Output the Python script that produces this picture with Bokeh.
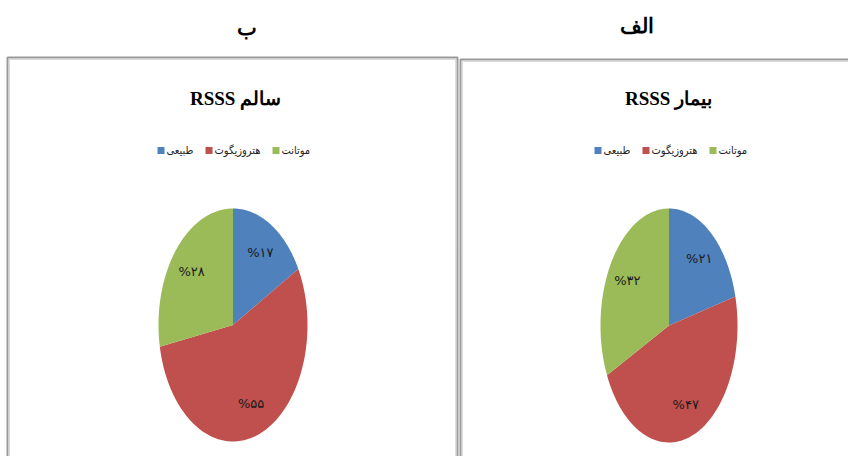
import numpy as np
from bokeh.plotting import figure
from bokeh.models import Range1d
from bokeh.core.properties import value
from bokeh.embed import file_html
from bokeh.resources import INLINE

# ---- data ----
categories = ["طبیعی", "هتروزیگوت", "موتانت"]
colors = ["#4F81BD", "#C0504D", "#9BBB59"]
healthy_values = [17, 55, 28]      # RSSS سالم  (panel ب)
patient_values = [21, 47, 32]      # RSSS بیمار (panel الف)
healthy_labels = ["%۱۷", "%۵۵", "%۲۸"]
patient_labels = ["%۲۱", "%۴۷", "%۳۲"]
panel_letters = ["ب", "الف"]
panel_titles = ["RSSS سالم", "RSSS بیمار"]

W, H = 848, 456
p = figure(width=W, height=H, output_backend="svg", toolbar_location=None,
           x_range=Range1d(0, W), y_range=Range1d(H, 0),
           min_border=0)
p.axis.visible = False
p.grid.visible = False
p.outline_line_color = None
p.background_fill_color = "white"

# panel frames (double grey line)
p.quad(left=[7, 460], right=[457, 875], top=[57, 59], bottom=[490, 490],
       fill_color=None, line_color="#9a9a9a", line_width=2)
p.quad(left=[9, 462], right=[455, 873], top=[59, 61], bottom=[490, 490],
       fill_color=None, line_color="#dcdcdc", line_width=1)

# panel letters (headers)
p.text(x=[246, 636], y=[27, 25], text=panel_letters, text_align="center",
       text_baseline="middle", text_font=value("Liberation Serif"),
       text_font_size="21px", text_font_style="bold", text_color="black")

# panel titles
p.text(x=[235, 668], y=[98, 98], text=panel_titles, text_align="center",
       text_baseline="middle", text_font=value("Liberation Sans Narrow"),
       text_font_size="19px", text_font_style="bold", text_color="black")


def draw_legend(x0):
    xs = [x0, x0 + 48, x0 + 115]
    p.rect(x=[x + 3.5 for x in xs], y=[150] * 3, width=7, height=7,
           fill_color=colors, line_color=None)
    p.text(x=[x + 9 for x in xs], y=[150] * 3, text=categories,
           text_align="left", text_baseline="middle",
           text_font=value("DejaVu Sans Condensed"), text_font_size="11px",
           text_color="#222222")


def draw_pie(vals, labels, cx, cy, rx, ry):
    total = float(sum(vals))
    cum = np.cumsum([0] + list(vals)) / total * 2 * np.pi
    xs_list, ys_list, lx, ly = [], [], [], []
    for i in range(len(vals)):
        t = np.linspace(cum[i], cum[i + 1], 80)
        xs_list.append(np.concatenate([[cx], cx + rx * np.sin(t)]).tolist())
        ys_list.append(np.concatenate([[cy], cy - ry * np.cos(t)]).tolist())
        m = (cum[i] + cum[i + 1]) / 2
        lx.append(cx + 0.72 * rx * np.sin(m))
        ly.append(cy - 0.72 * ry * np.cos(m))
    p.patches(xs=xs_list, ys=ys_list, fill_color=colors, line_color=None)
    p.text(x=lx, y=ly, text=labels, text_align="center",
           text_baseline="middle", text_font=value("DejaVu Sans"),
           text_font_size="13px", text_color="#1a1a1a")


draw_legend(157)
draw_legend(594)
draw_pie(healthy_values, healthy_labels, 232.5, 324.5, 74.5, 116.5)
draw_pie(patient_values, patient_labels, 668.5, 325, 68.5, 117)

open("out.html", "w").write(file_html(p, INLINE))
